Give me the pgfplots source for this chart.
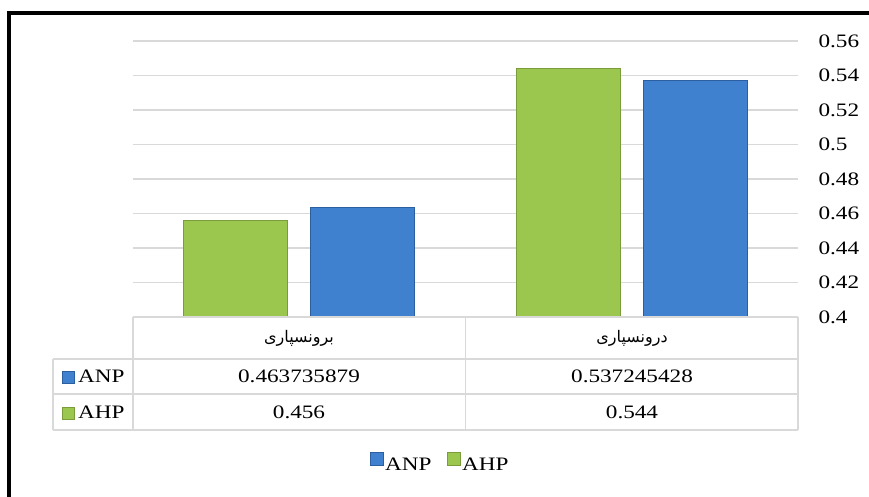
\documentclass[border=0pt]{standalone}
\usepackage{fontspec}
\setmainfont{Liberation Serif}[FakeStretch=1.22]
\newfontfamily\arabicfont[Script=Arabic]{DejaVu Sans}
\TeXXeTstate=1
\usepackage{pgfplots}
\pgfplotsset{compat=1.18}
\definecolor{gridc}{HTML}{D9D9D9}
\definecolor{gfill}{HTML}{9CC74F}
\definecolor{gedge}{HTML}{7A9C3A}
\definecolor{bfill}{HTML}{3F80CF}
\definecolor{bedge}{HTML}{2C5F9F}
\begin{document}
\begin{tikzpicture}[x=1pt,y=1pt]
\useasboundingbox (0,0) rectangle (869,497);
\fill[white] (0,0) rectangle (869,497);
\draw[line width=4pt] (9,0) -- (9,484) -- (869,484);
\begin{axis}[
  at={(133pt,180pt)}, anchor=south west,
  width=665pt, height=276pt, scale only axis,
  ymin=0.4, ymax=0.56,
  ytick={0.4,0.42,0.44,0.46,0.48,0.5,0.52,0.54,0.56},
  yticklabels={0.4,0.42,0.44,0.46,0.48,0.5,0.52,0.54,0.56},
  xmin=-0.5, xmax=1.5, xtick=\empty,
  axis line style={draw=none},
  major tick length=0pt,
  ymajorgrids, grid style={gridc, line width=1.6pt},
  yticklabel pos=right,
  yticklabel style={anchor=west, xshift=17pt, font=\fontsize{19}{21}\selectfont},
  legend style={at={(0.4617,-0.529)}, anchor=center, draw=none, fill=none,
    legend columns=2, font=\fontsize{19}{21}\selectfont,
    /tikz/every even column/.append style={column sep=13pt},
    inner sep=0pt},
  reverse legend,
]
\addplot[ybar, bar width=104pt, bar shift=-63.5pt, fill=gfill, draw=gedge, line width=0.8pt,
  legend image code/.code={\fill[gfill, draw=gedge, line width=0.5pt] (0pt,-1pt) rectangle (13pt,12pt);}]
  coordinates {(0,0.456) (1,0.544)};
\addlegendentry{AHP}
\addplot[ybar, bar width=104pt, bar shift=63.5pt, fill=bfill, draw=bedge, line width=0.8pt,
  legend image code/.code={\fill[bfill, draw=bedge, line width=0.5pt] (0pt,-1pt) rectangle (13pt,12pt);}]
  coordinates {(0,0.463735879) (1,0.537245428)};
\addlegendentry{ANP}
\end{axis}
% data table
\draw[gridc, line width=1.6pt] (133,180) -- (798,180);
\draw[gridc, line width=1.6pt] (53,138) -- (798,138) (53,103) -- (798,103) (53,67) -- (798,67);
\draw[gridc, line width=1.6pt] (53,138) -- (53,67) (133,180) -- (133,67) (465.5,180) -- (465.5,67) (798,180) -- (798,67);
\node[font=\arabicfont\fontsize{16}{19}\selectfont] at (299,159) {\beginR برونسپاری\endR};
\node[font=\arabicfont\fontsize{16}{19}\selectfont] at (632,159) {\beginR درونسپاری\endR};
\begin{scope}[every node/.style={font=\fontsize{19}{21}\selectfont, inner sep=0pt}]
\node[anchor=base] at (299,114) {0.463735879};
\node[anchor=base] at (632,114) {0.537245428};
\node[anchor=base] at (299,78) {0.456};
\node[anchor=base] at (632,78) {0.544};
\fill[bfill, draw=bedge, line width=0.5pt] (62,114) rectangle (74,126);
\node[anchor=base west] at (78,114) {ANP};
\fill[gfill, draw=gedge, line width=0.5pt] (62,78) rectangle (74,90);
\node[anchor=base west] at (78,78) {AHP};
\end{scope}
\end{tikzpicture}
\end{document}
